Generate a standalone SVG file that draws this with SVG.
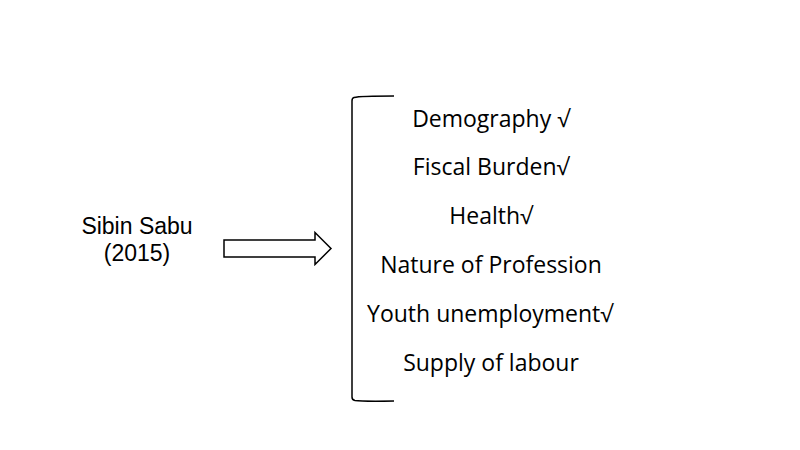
<svg xmlns="http://www.w3.org/2000/svg" width="800" height="450" viewBox="0 0 800 450">
<style>
.t{font-family:"Open Sans","Noto Sans","Liberation Sans",sans-serif;font-size:23px;fill:#000;text-anchor:middle}
.s{font-family:"Liberation Sans","Open Sans",sans-serif;font-size:23px;fill:#000;text-anchor:middle}
.ln{fill:none;stroke:#000;stroke-width:1.5}
</style>
<rect width="800" height="450" fill="#fff"/>
<g id="source">
<text class="s" x="137" y="233.5">Sibin Sabu</text>
<text class="s" x="137" y="261">(2015)</text>
</g>
<g id="connectors">
<path class="ln" stroke-width="1.2" d="M224,240 H315 V232.5 L331,248.5 L315,264.5 V257 H224 Z"/>
</g>
<g id="bracket">
<path class="ln" d="M394,96 Q360,96 354,97.5 Q352,98 352,101 V397 Q352,400 355,400.5 Q362,401.5 394,401"/>
</g>
<g id="factors">
<text class="t" x="491" y="127">Demography √</text>
<text class="t" x="491" y="175">Fiscal Burden√</text>
<text class="t" x="491" y="224">Health√</text>
<text class="t" x="491" y="273">Nature of Profession</text>
<text class="t" x="490" y="322">Youth unemployment√</text>
<text class="t" x="491" y="371">Supply of labour</text>
</g>
</svg>
